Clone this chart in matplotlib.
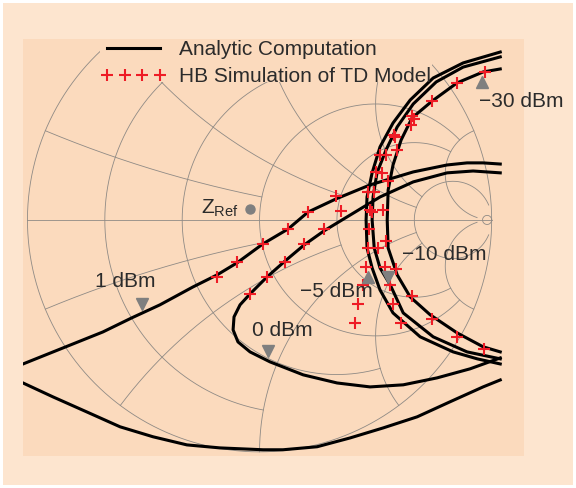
import matplotlib.pyplot as plt
import numpy as np
from matplotlib.lines import Line2D
from matplotlib.patches import Rectangle

plt.rcParams['font.family'] = ['Liberation Sans', 'DejaVu Sans']
plt.rcParams['mathtext.fontset'] = 'custom'
plt.rcParams['mathtext.rm'] = 'Liberation Sans'

# reflection coefficient (re, im)
p1_upper = [(-1.019, -0.621), (-0.847, -0.552), (-0.675, -0.483), (-0.550, -0.422),
            (-0.429, -0.366), (-0.287, -0.289), (-0.183, -0.237), (-0.097, -0.185),
            (0.015, -0.103), (0.123, -0.039), (0.209, 0.034), (0.330, 0.091),
            (0.476, 0.151), (0.662, 0.207), (0.808, 0.237), (0.894, 0.246),
            (0.963, 0.246), (1.037, 0.241)]
p1_lower = [(-1.019, -0.703), (-0.890, -0.763), (-0.744, -0.828), (-0.601, -0.892),
            (-0.459, -0.935), (-0.313, -0.970), (-0.170, -0.983), (0.015, -0.991),
            (0.101, -0.991), (0.248, -0.978), (0.390, -0.940), (0.532, -0.897),
            (0.679, -0.849), (0.821, -0.784), (0.963, -0.720), (1.037, -0.690)]
p0 = [(1.037, 0.203), (0.920, 0.211), (0.808, 0.203), (0.662, 0.164), (0.519, 0.099),
      (0.377, 0.013), (0.278, -0.047), (0.192, -0.108), (0.110, -0.177), (0.032, -0.246),
      (-0.041, -0.319), (-0.084, -0.366), (-0.110, -0.418), (-0.114, -0.474),
      (-0.093, -0.526), (-0.041, -0.569), (0.045, -0.612), (0.188, -0.668),
      (0.334, -0.703), (0.476, -0.720), (0.619, -0.711), (0.765, -0.681),
      (0.907, -0.642), (1.037, -0.595)]
m5 = [(1.037, 0.724), (0.877, 0.677), (0.748, 0.612), (0.649, 0.517), (0.575, 0.418),
      (0.519, 0.315), (0.485, 0.203), (0.463, 0.099), (0.459, 0.0), (0.463, -0.121),
      (0.485, -0.207), (0.519, -0.302), (0.575, -0.401), (0.692, -0.504),
      (0.834, -0.569), (0.938, -0.599), (1.037, -0.621)]
m10 = [(1.037, 0.703), (0.877, 0.659), (0.761, 0.595), (0.662, 0.500), (0.593, 0.401),
       (0.545, 0.302), (0.506, 0.203), (0.489, 0.099), (0.485, 0.0), (0.494, -0.121),
       (0.519, -0.207), (0.563, -0.280), (0.619, -0.401), (0.748, -0.504),
       (0.894, -0.569), (1.037, -0.599)]
m30 = [(1.037, 0.651), (0.963, 0.638), (0.851, 0.591), (0.744, 0.513), (0.657, 0.440),
       (0.610, 0.345), (0.575, 0.237), (0.554, 0.129), (0.550, 0.0), (0.554, -0.121),
       (0.593, -0.237), (0.649, -0.332), (0.735, -0.409), (0.851, -0.487),
       (0.963, -0.547), (1.037, -0.569)]

hb_p1 = [(-0.183, -0.246), (-0.097, -0.181), (0.015, -0.103), (0.123, -0.039),
         (0.209, 0.034), (0.330, 0.103)]
hb_p0 = [(-0.041, -0.319), (0.032, -0.246), (0.110, -0.181), (0.192, -0.103),
         (0.278, -0.039), (0.351, 0.039)]
hb_m30 = [(0.972, 0.638), (0.851, 0.591), (0.744, 0.513), (0.657, 0.448), (0.593, 0.302),
          (0.554, 0.168), (0.532, 0.043), (0.545, -0.091), (0.588, -0.211),
          (0.657, -0.328), (0.744, -0.427), (0.851, -0.504), (0.968, -0.556)]
hb_m10 = [(0.666, 0.435), (0.584, 0.358), (0.545, 0.280), (0.528, 0.203), (0.494, 0.121),
          (0.485, 0.034), (0.472, -0.039), (0.511, -0.121), (0.541, -0.203),
          (0.563, -0.280), (0.575, -0.362), (0.610, -0.444)]
hb_m5 = [(0.653, 0.409), (0.580, 0.366), (0.519, 0.280), (0.502, 0.207), (0.468, 0.121),
         (0.476, 0.043), (0.468, -0.121), (0.459, -0.203), (0.446, -0.280),
         (0.425, -0.362), (0.412, -0.444)]

# power labels: text, text position, triangle marker position, marker
labels = ['1 dBm', '0 dBm', '\u22125 dBm', '\u221210 dBm', '\u221230 dBm']
label_pos = [(-0.580, -0.267), (0.097, -0.478), (0.330, -0.310), (0.795, -0.151), (1.127, 0.509)]
tri_pos = [(-0.506, -0.362), (0.037, -0.565), (0.468, -0.246), (0.554, -0.246), (0.959, 0.595)]
tri_mark = ['v', 'v', '^', 'v', '^']
z_ref = (-0.041, 0.047)

bg_outer = '#FDE5CF'
bg_inner = '#FBDABD'
red = '#EE1C25'
txt = '#2b2b2b'


def smith_grid(ax):
    vals = [0.2, 0.5, 1.0, 2.0, 5.0]
    lims = [1.0, 2.0, 5.0, 5.0, 30.0]
    kw = dict(color='#8f8a85', lw=0.6, zorder=1)
    t = np.linspace(0, 2 * np.pi, 600)
    ax.plot(np.cos(t), np.sin(t), **kw)
    ax.plot([-1, 1], [0, 0], **kw)
    for v, lim in zip(vals, lims):
        x = np.linspace(-lim, lim, 3000)
        g = (v + 1j * x - 1) / (v + 1j * x + 1)
        ax.plot(g.real, g.imag, **kw)
        r = np.linspace(0, lim, 3000)
        for s in (1, -1):
            g = (r + 1j * s * v - 1) / (r + 1j * s * v + 1)
            ax.plot(g.real, g.imag, **kw)
    # small circle near the open-circuit point
    rr = 50.0
    ax.plot(rr / (1 + rr) + np.cos(t) / (1 + rr), np.sin(t) / (1 + rr), **kw)


fig = plt.figure(figsize=(5.76, 4.88), dpi=100, facecolor=bg_outer)
fig.patch.set_edgecolor('white')
fig.patch.set_linewidth(4)
ax = fig.add_axes([0.040, 0.066, 0.870, 0.854])
ax.set_facecolor(bg_inner)
for sp in ax.spines.values():
    sp.set_visible(False)
ax.set_xticks([])
ax.set_yticks([])
ax.set_xlim(-1.019, 1.140)
ax.set_ylim(-1.017, 0.780)

smith_grid(ax)
# legend area hides the grid
ax.add_patch(Rectangle((0.154, 0.897), 0.662, 0.103, transform=ax.transAxes,
                       facecolor=bg_inner, edgecolor='none', zorder=2))

for curve in [p1_upper, p1_lower, p0, m5, m10, m30]:
    c = np.array(curve)
    ax.plot(c[:, 0], c[:, 1], color='black', lw=2.2, zorder=3)

for pts in [hb_p1, hb_p0, hb_m30, hb_m10, hb_m5]:
    p = np.array(pts)
    ax.plot(p[:, 0], p[:, 1], ls='none', marker='+', color=red, ms=8, mew=1.5, zorder=4)

for lab, lp, tp, mk in zip(labels, label_pos, tri_pos, tri_mark):
    ax.plot(tp[0], tp[1], marker=mk, color='#7f7f7f', ms=8, ls='none', zorder=5)
    ax.text(lp[0], lp[1], lab, fontsize=15, color=txt, ha='center', va='center', zorder=6)

ax.plot(z_ref[0], z_ref[1], 'o', color='#7f7f7f', ms=6.5, zorder=5)
ax.text(z_ref[0] - 0.047, z_ref[1] + 0.003, r'$\mathrm{Z}_{\mathrm{Ref}}$', fontsize=15,
        color=txt, ha='right', va='center', zorder=6)

handles = [Line2D([], [], color='black', lw=2.2),
           Line2D([], [], ls='none', marker='+', color=red, ms=8, mew=1.5)]
ax.legend(handles, ['Analytic Computation', 'HB Simulation of TD Model'],
          loc='upper left', bbox_to_anchor=(0.156, 0.998), frameon=False, fontsize=15,
          numpoints=4, handlelength=3.1, handletextpad=0.65, labelspacing=0.4,
          borderpad=0, borderaxespad=0, labelcolor=txt)

fig.savefig('out.png', dpi=100, facecolor=fig.get_facecolor(), edgecolor='white')
